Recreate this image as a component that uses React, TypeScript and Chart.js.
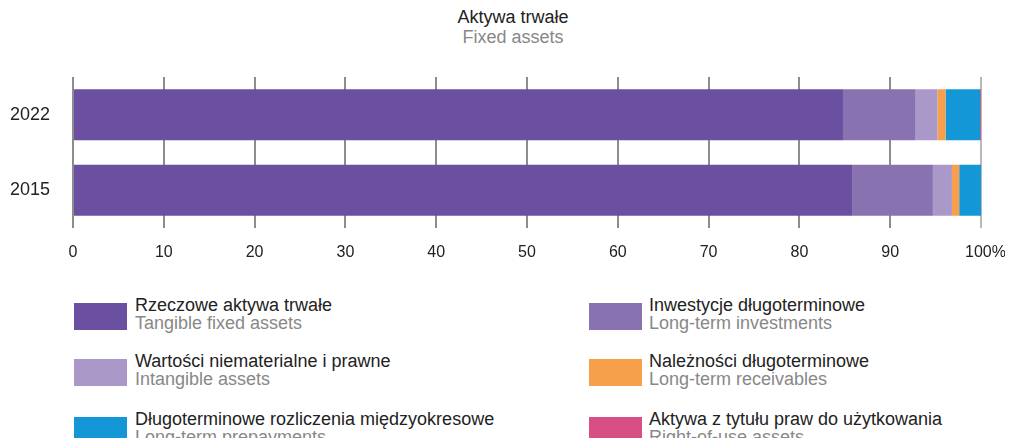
import React, { useEffect, useRef } from "react";
import { Chart, registerables } from "chart.js";

Chart.register(...registerables);

const years = ["2022", "2015"];
const tangible = [84.8, 85.8];
const investments = [8.0, 8.9];
const intangible = [2.4, 2.1];
const receivables = [0.9, 0.8];
const prepayments = [3.8, 2.4];
const rightOfUse = [0.1, 0.0];
const xTicks = [0, 10, 20, 30, 40, 50, 60, 70, 80, 90, 100];

const seriesPl = [
  "Rzeczowe aktywa trwałe",
  "Inwestycje długoterminowe",
  "Wartości niematerialne i prawne",
  "Należności długoterminowe",
  "Długoterminowe rozliczenia międzyokresowe",
  "Aktywa z tytułu praw do użytkowania",
];
const seriesEn = [
  "Tangible fixed assets",
  "Long-term investments",
  "Intangible assets",
  "Long-term receivables",
  "Long-term prepayments",
  "Right-of-use assets",
];
const colors = ["#6b4fa0", "#8872b0", "#a998c8", "#f6a04b", "#1397d6", "#d84f85"];
const seriesValues = [tangible, investments, intangible, receivables, prepayments, rightOfUse];

const FONT = "'Liberation Sans', Arial, sans-serif";

export default function App() {
  const ref = useRef<HTMLCanvasElement | null>(null);

  useEffect(() => {
    if (!ref.current) return;
    const chart = new Chart(ref.current, {
      type: "bar",
      data: {
        labels: years,
        datasets: seriesValues.map((vals, i) => ({
          label: seriesPl[i],
          data: vals,
          backgroundColor: colors[i],
          borderWidth: 0,
          categoryPercentage: 1,
          barPercentage: 0.675,
        })),
      },
      options: {
        indexAxis: "y",
        animation: false,
        responsive: false,
        maintainAspectRatio: false,
        layout: { padding: { top: 77, right: 32, bottom: 0, left: 0 } },
        plugins: {
          legend: { display: false },
          tooltip: { enabled: false },
          title: { display: false },
        },
        scales: {
          x: {
            stacked: true,
            min: 0,
            max: 100,
            afterBuildTicks: (scale: any) => {
              scale.ticks = xTicks.map((v) => ({ value: v }));
            },
            afterFit: (scale: any) => {
              scale.height = 40;
              scale.paddingLeft = 0;
              scale.paddingRight = 0;
            },
            ticks: {
              padding: 15,
              color: "#222",
              font: { family: FONT, size: 16 },
              callback: (v: any) => (Number(v) === 100 ? "  100%" : String(v)),
            },
            grid: {
              drawTicks: false,
              lineWidth: 2,
              color: (ctx: any) => (ctx.tick && ctx.tick.value === 100 ? "#b8b8b8" : "#8c8c8c"),
            },
            border: { display: false },
          },
          y: {
            stacked: true,
            afterFit: (scale: any) => {
              scale.width = 73;
            },
            ticks: {
              padding: 23,
              color: "#222",
              font: { family: FONT, size: 18 },
            },
            grid: { display: false, drawTicks: false },
            border: { display: false },
          },
        },
      },
    });
    return () => chart.destroy();
  }, []);

  const rowTops = [300, 356, 414];
  const legendItems = seriesPl.map((pl, i) => ({ pl, en: seriesEn[i], color: colors[i] }));

  return (
    <div
      style={{
        position: "relative",
        margin: -8,
        width: 1013,
        height: 446,
        overflow: "hidden",
        background: "#fff",
        fontFamily: FONT,
      }}
    >
      <div
        style={{
          position: "absolute",
          top: 7,
          left: 0,
          width: 1026,
          textAlign: "center",
          fontSize: 18,
          lineHeight: "20px",
        }}
      >
        <div style={{ color: "#222" }}>Aktywa trwałe</div>
        <div style={{ color: "#888" }}>Fixed assets</div>
      </div>
      <canvas
        ref={ref}
        width={1013}
        height={268}
        style={{ position: "absolute", top: 0, left: 0, width: 1013, height: 268 }}
      />
      {legendItems.map((it, i) => {
        const col = i % 2;
        const row = Math.floor(i / 2);
        const swLeft = col === 0 ? 74 : 589;
        const textLeft = col === 0 ? 135 : 649;
        const top = rowTops[row];
        return (
          <React.Fragment key={i}>
            <div
              style={{
                position: "absolute",
                left: swLeft,
                top: top + 3,
                width: 53,
                height: 27,
                background: it.color,
              }}
            />
            <div
              style={{
                position: "absolute",
                left: textLeft,
                top: top - 4,
                fontSize: 18,
                lineHeight: "18px",
                whiteSpace: "nowrap",
              }}
            >
              <div style={{ color: "#222" }}>{it.pl}</div>
              <div style={{ color: "#888" }}>{it.en}</div>
            </div>
          </React.Fragment>
        );
      })}
    </div>
  );
}
